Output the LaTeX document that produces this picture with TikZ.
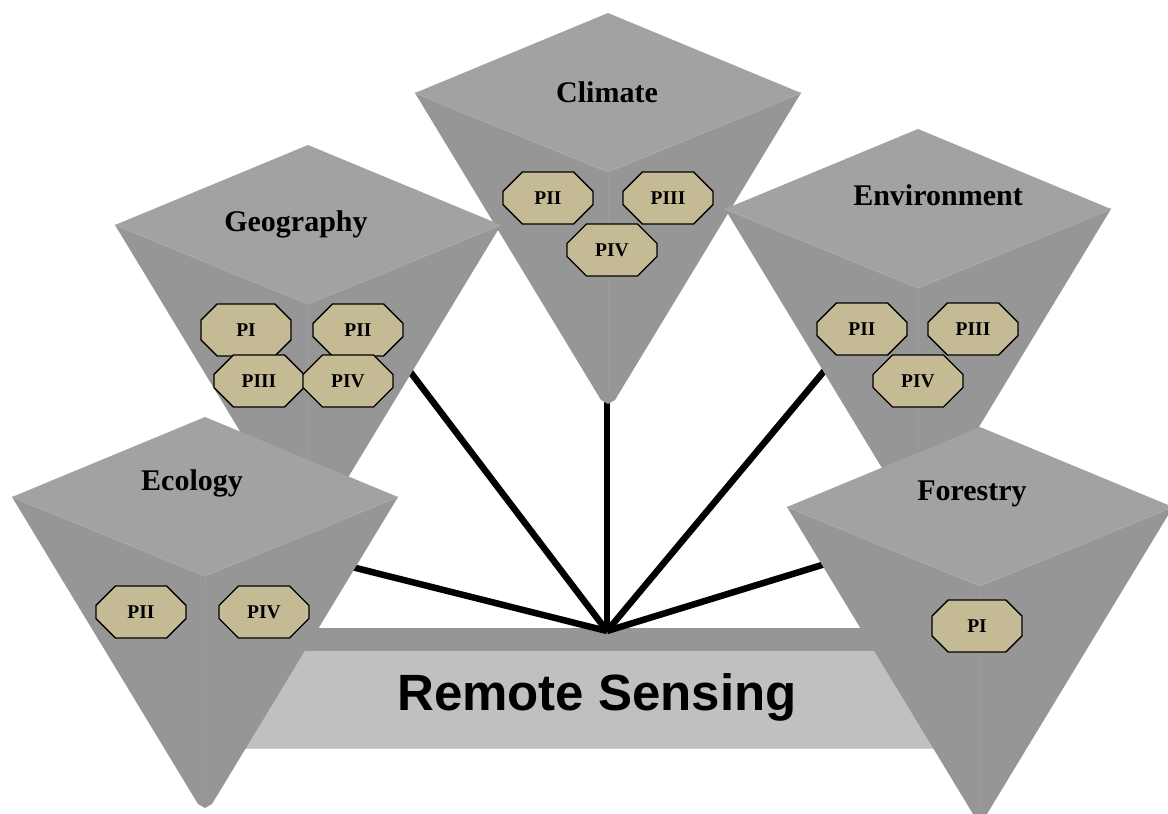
\documentclass[tikz,border=0pt]{standalone}
\usepackage{fontspec}
\setmainfont{Liberation Serif}
\newfontfamily\rsfont{Liberation Sans}
\usetikzlibrary{shapes.misc}
\definecolor{topgray}{HTML}{A1A2A1}
\definecolor{sidegray}{HTML}{969696}
\definecolor{barlight}{HTML}{C0C0C0}
\definecolor{badgetan}{HTML}{C4BB94}

\begin{document}
\begin{tikzpicture}[x=1pt, y=-1pt,
                    link/.style = {line width=6.5pt},
                    title/.style = {anchor=base, font=\fontsize{30}{30}\selectfont\bfseries},
                    badge/.style = {draw, line width=1.3pt, fill=badgetan, chamfered rectangle, chamfered rectangle sep=13pt, minimum width=90pt, minimum height=52pt, inner sep=0pt, font=\fontsize{19.5}{19.5}\selectfont\bfseries},
                    pyr/.pic = {
                        \fill[sidegray] (-193,0) -- (193,0) -- (7,307) -- (0,311) -- (-7,307) -- cycle;
                        \fill[topgray] (-193,0) -- (0,-80) -- (193,0) -- (0,79) -- cycle;
                        \draw[gray!68, line width=1.2pt] (-193,0) -- (0,79) -- (193,0);
                        \draw[gray!78, line width=0.6pt] (0,79) -- (0,300);
                    }]
                    \useasboundingbox (0,0) rectangle (1168,814);

                    \fill[sidegray] (240,628) rectangle (950,651);
                    \fill[barlight] (240,651) rectangle (950,748);
                    \draw[gray!40, line width=1pt] (240,748) -- (950,748);
                    \node[font=\rsfont\fontsize{51}{51}\selectfont\bfseries, anchor=base] (rs) at (597,710) {Remote Sensing};

                    \coordinate (hub) at (607,631);
                    \coordinate (toclim) at (607,398);
                    \coordinate (togeo) at (405,365);
                    \coordinate (toenv) at (835,358);
                    \coordinate (toeco) at (340,564);
                    \coordinate (tofor) at (835,561);

                    \draw[link] (hub) -- (toclim);
                    \draw[link] (hub) -- (togeo);
                    \draw[link] (hub) -- (toenv);
                    \draw[link] (hub) -- (toeco);
                    \draw[link] (hub) -- (tofor);

                    \pic at (608,93) {pyr};
                    \pic at (308,225) {pyr};
                    \pic at (918,209) {pyr};
                    \pic at (205,497) {pyr};
                    \pic at (980,507) {pyr};

                    \node[title] (clim) at (607,102) {Climate};
                    \node[title] (geo) at (296,231) {Geography};
                    \node[title] (env) at (938,205) {Environment};
                    \node[title] (eco) at (192,490) {Ecology};
                    \node[title] (for) at (972,500) {Forestry};

                    \node[badge] (c2) at (548,198) {PII};
                    \node[badge] (c3) at (668,198) {PIII};
                    \node[badge] (c4) at (612,250) {PIV};

                    \node[badge] (g1) at (246,330) {PI};
                    \node[badge] (g2) at (358,330) {PII};
                    \node[badge] (g3) at (259,381) {PIII};
                    \node[badge] (g4) at (348,381) {PIV};

                    \node[badge] (n2) at (862,329) {PII};
                    \node[badge] (n3) at (973,329) {PIII};
                    \node[badge] (n4) at (918,381) {PIV};

                    \node[badge] (e2) at (141,612) {PII};
                    \node[badge] (e4) at (264,612) {PIV};

                    \node[badge] (f1) at (977,626) {PI};
                \end{tikzpicture}
\end{document}
